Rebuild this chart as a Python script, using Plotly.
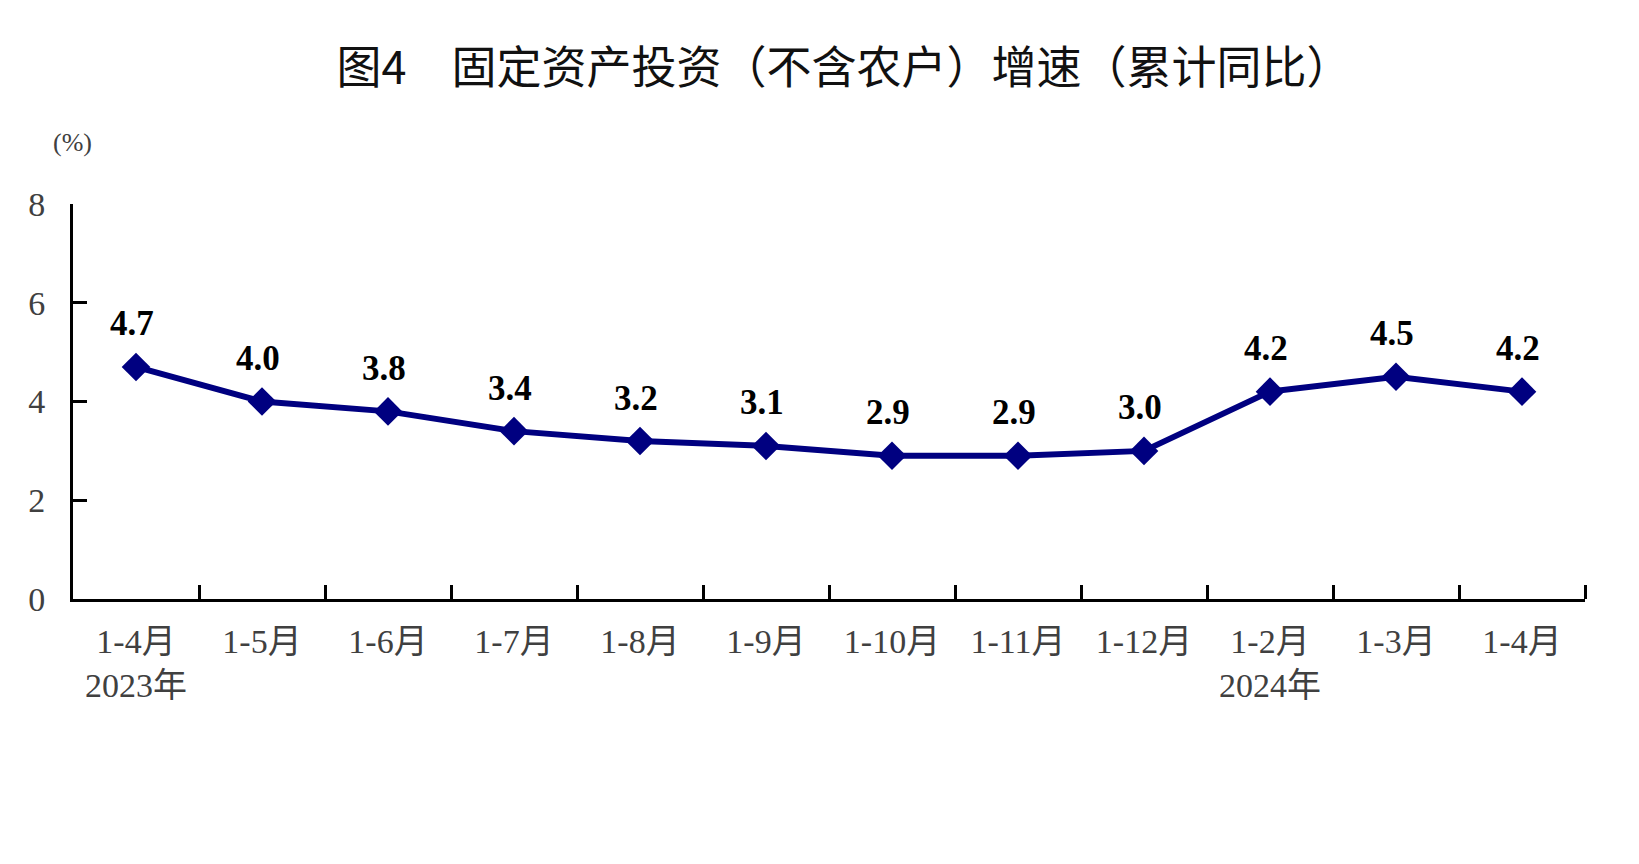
import plotly.graph_objects as go

months = ["1-4月", "1-5月", "1-6月", "1-7月", "1-8月", "1-9月",
          "1-10月", "1-11月", "1-12月", "1-2月", "1-3月", "1-4月"]
years = ["2023年", "", "", "", "", "", "", "", "", "2024年", "", ""]
values = [4.7, 4.0, 3.8, 3.4, 3.2, 3.1, 2.9, 2.9, 3.0, 4.2, 4.5, 4.2]
y_ticks = [0, 2, 4, 6, 8]

tick_text = [m + ("<br>" + y if y else "") for m, y in zip(months, years)]
x_idx = list(range(len(months)))

LINE = "#000080"
SERIF = "Liberation Serif, 'Times New Roman', 'Noto Sans CJK SC', serif"

W, H = 1639, 864
ml, mr, mt, mb = 65, 62, 196, 273
pw, ph = W - ml - mr, H - mt - mb

fig = go.Figure()
fig.add_trace(go.Scatter(
    x=x_idx, y=values, mode="lines+markers",
    line=dict(color=LINE, width=6),
    marker=dict(symbol="diamond", size=22, color=LINE),
    hoverinfo="skip", showlegend=False,
))

annotations = []
for xi, v in zip(x_idx, values):
    annotations.append(dict(
        x=xi, y=v, xref="x", yref="y", text=f"{v:.1f}", showarrow=False,
        xshift=-4, yshift=43, yanchor="middle",
        font=dict(family=SERIF, size=35, color="#000000", weight="bold"),
    ))
annotations.append(dict(
    x=(64 - ml) / pw, y=(H - mb - 134) / ph, xref="paper", yref="paper",
    text="(%)", showarrow=False, xanchor="center", yanchor="middle",
    font=dict(family=SERIF, size=26, color="#404040"),
))

fig.update_layout(
    width=W, height=H,
    margin=dict(l=ml, r=mr, t=mt, b=mb),
    paper_bgcolor="white", plot_bgcolor="white",
    title=dict(
        text="图4　固定资产投资（不含农户）增速（累计同比）",
        x=836 / W, xanchor="center", y=1 - 60 / H, yanchor="middle",
        yref="container",
        font=dict(family="'Noto Sans CJK SC', sans-serif", size=45, color="#111111"),
    ),
    xaxis=dict(
        tickmode="array", tickvals=x_idx, ticktext=tick_text,
        range=[-0.5, len(months) - 0.5],
        showline=True, linecolor="black", linewidth=3,
        ticks="", showgrid=False, zeroline=False,
        tickfont=dict(family=SERIF, size=34, color="#404040"),
        ticklabelstandoff=10,
        minor=dict(tickmode="array",
                   tickvals=[i + 0.5 for i in x_idx],
                   ticks="inside", ticklen=14, tickwidth=3, tickcolor="black",
                   showgrid=False),
    ),
    yaxis=dict(
        range=[0, 8], tickmode="array", tickvals=y_ticks,
        showline=True, linecolor="black", linewidth=3,
        ticks="inside", ticklen=14, tickwidth=3, tickcolor="black",
        showgrid=False, zeroline=False,
        tickfont=dict(family=SERIF, size=34, color="#404040"),
        ticklabelstandoff=18,
    ),
    annotations=annotations,
)

fig.write_html("out.html")
